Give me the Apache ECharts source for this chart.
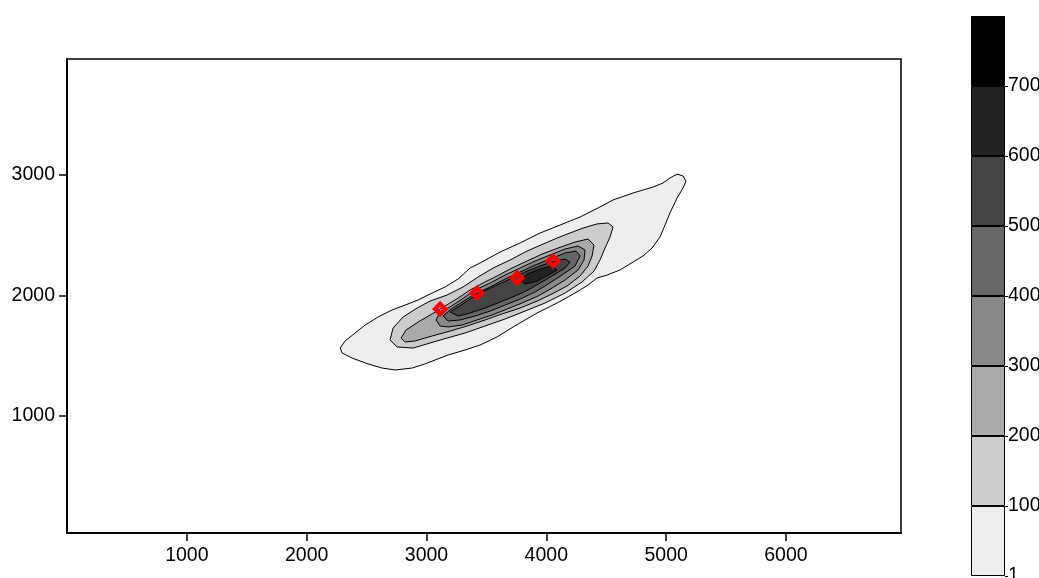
<!DOCTYPE html>
<html>
<head>
<meta charset="utf-8">
<script src="https://cdn.jsdelivr.net/npm/echarts@6/dist/echarts.min.js"></script>
<style>
  html, body { margin: 0; padding: 0; background: #fff; }
  #chart { width: 1039px; height: 578px; }
</style>
</head>
<body>
<div id="chart"></div>
<script>
// contour levels and their fill colours (light -> dark)
const levelLabels = ['1', '100', '200', '300', '400', '500', '600', '700'];
const levelColors = ['#eeeeee', '#cccccc', '#aaaaaa', '#888888', '#666666', '#444444', '#222222', '#000000'];

const xTicks = [1000, 2000, 3000, 4000, 5000, 6000];
const yTicks = [1000, 2000, 3000];

// contour outlines, data units [x, y]
const contour1 = [
  [2280,1564],[2321,1623],[2404,1689],[2488,1755],[2596,1822],[2713,1880],[2822,1921],[2930,1963],
  [3047,2021],[3155,2071],[3264,2137],[3364,2228],[3447,2270],[3614,2361],[3781,2436],[3948,2519],
  [4115,2585],[4282,2652],[4448,2735],[4557,2793],[4724,2851],[4891,2900],[4974,2934],[5032,2975],
  [5091,3008],[5141,2992],[5166,2950],[5141,2892],[5091,2809],[5032,2685],[4991,2585],[4949,2486],
  [4882,2394],[4807,2328],[4724,2278],[4615,2212],[4507,2170],[4423,2145],[4348,2087],[4282,2046],
  [4182,1988],[4090,1938],[4006,1896],[3923,1855],[3823,1797],[3723,1739],[3589,1656],[3447,1589],
  [3322,1548],[3180,1506],[3072,1465],[2988,1432],[2880,1398],[2738,1382],[2630,1398],[2513,1432],
  [2379,1481],[2296,1523]
];
const contour100 = [
  [2696,1631],[2721,1730],[2805,1822],[2922,1896],[3030,1954],[3172,2004],[3305,2071],[3431,2154],
  [3556,2228],[3698,2295],[3839,2369],[3973,2427],[4090,2477],[4198,2519],[4307,2560],[4423,2594],
  [4515,2602],[4557,2569],[4532,2486],[4490,2394],[4448,2295],[4398,2203],[4298,2112],[4157,2021],
  [3990,1938],[3823,1871],[3656,1805],[3489,1747],[3322,1689],[3172,1647],[3030,1606],[2888,1564],
  [2755,1573]
];
const contour200 = [
  [2788,1647],[2830,1714],[2930,1780],[3047,1847],[3155,1913],[3264,1979],[3364,2046],[3472,2104],
  [3589,2162],[3714,2228],[3839,2286],[3965,2344],[4098,2394],[4240,2444],[4348,2469],[4398,2419],
  [4382,2328],[4348,2245],[4282,2162],[4173,2079],[4048,2013],[3923,1954],[3781,1896],[3631,1847],
  [3489,1797],[3339,1747],[3197,1705],[3047,1664],[2905,1623],[2822,1614]
];
const contour300 = [
  [3080,1797],[3114,1863],[3197,1905],[3297,1971],[3406,2046],[3531,2104],[3656,2170],[3781,2228],
  [3906,2286],[4031,2336],[4157,2386],[4265,2411],[4323,2378],[4315,2295],[4265,2212],[4157,2129],
  [4048,2062],[3931,1996],[3798,1938],[3673,1888],[3547,1838],[3422,1797],[3297,1755],[3180,1739],
  [3114,1747]
];
const contour400 = [
  [3139,1830],[3197,1880],[3297,1946],[3406,2013],[3531,2071],[3656,2137],[3781,2195],[3906,2253],
  [4031,2303],[4157,2353],[4248,2369],[4282,2328],[4240,2245],[4131,2170],[4015,2095],[3906,2029],
  [3781,1971],[3656,1921],[3531,1871],[3406,1830],[3280,1797],[3180,1788]
];
const contour500 = [
  [3197,1863],[3264,1905],[3364,1971],[3464,2029],[3572,2079],[3698,2137],[3823,2195],[3948,2245],
  [4073,2286],[4157,2303],[4198,2278],[4157,2228],[4048,2162],[3948,2104],[3848,2046],[3739,1996],
  [3614,1946],[3489,1896],[3364,1855],[3264,1830]
];
const contour600 = [
  [3781,2129],[3839,2178],[3948,2220],[4048,2245],[4090,2212],[4031,2178],[3923,2120],[3823,2095]
];
const contours = [contour1, contour100, contour200, contour300, contour400, contour500, contour600];

// red diamond markers
const peaks = [[3114,1888],[3422,2021],[3756,2145],[4056,2286]];

const font = 'Liberation Sans, Arial, Helvetica, sans-serif';

const chart = echarts.init(document.getElementById('chart'));

const colorbarSeries = levelColors.map((c, i) => ({
  type: 'bar',
  xAxisIndex: 1,
  yAxisIndex: 1,
  stack: 'bar',
  barWidth: '100%',
  data: [1],
  itemStyle: { color: c, borderColor: '#000', borderWidth: 1 },
  silent: true
}));

chart.setOption({
  backgroundColor: '#fff',
  animation: false,
  grid: [
    { left: 67, top: 59, width: 834, height: 474, show: true, borderColor: '#000', borderWidth: 1.5,
      backgroundColor: '#fff', outerBoundsMode: 'none', containLabel: false },
    { left: 971, top: 16, width: 34, height: 560, outerBoundsMode: 'none', containLabel: false }
  ],
  xAxis: [
    {
      type: 'value', gridIndex: 0, min: 0, max: 6960,
      axisLine: { show: true, onZero: false, lineStyle: { color: '#000', width: 2 } },
      axisTick: { show: true, length: 8, customValues: xTicks, lineStyle: { color: '#000', width: 1.5 } },
      axisLabel: { customValues: xTicks, margin: 13, color: '#000', fontSize: 19.5, fontFamily: font,
        formatter: v => String(v) },
      splitLine: { show: false }
    },
    { type: 'category', gridIndex: 1, data: ['c'], show: false }
  ],
  yAxis: [
    {
      type: 'value', gridIndex: 0, min: 29, max: 3963,
      axisLine: { show: true, onZero: false, lineStyle: { color: '#000', width: 2 } },
      axisTick: { show: true, length: 8, customValues: yTicks, lineStyle: { color: '#000', width: 1.5 } },
      axisLabel: { customValues: yTicks, margin: 12, color: '#000', fontSize: 19.5, fontFamily: font,
        formatter: v => String(v) },
      splitLine: { show: false }
    },
    {
      type: 'value', gridIndex: 1, min: 0, max: levelColors.length, position: 'right',
      axisLine: { show: false },
      axisTick: { show: true, length: 3, customValues: [0, 1, 2, 3, 4, 5, 6, 7], lineStyle: { color: '#000' } },
      axisLabel: {
        customValues: [0, 1, 2, 3, 4, 5, 6, 7], margin: 3, color: '#000', fontSize: 19.5, fontFamily: font,
        formatter: v => levelLabels[v]
      },
      splitLine: { show: false }
    }
  ],
  series: [
    {
      type: 'custom',
      xAxisIndex: 0,
      yAxisIndex: 0,
      data: contours.map((c, i) => [i]),
      renderItem: (params, api) => {
        const i = params.dataIndex;
        const pts = contours[i].map(p => api.coord(p));
        return {
          type: 'polygon',
          shape: { points: pts },
          style: { fill: levelColors[i], stroke: '#000', lineWidth: 1 }
        };
      },
      silent: true
    },
    {
      type: 'scatter',
      xAxisIndex: 0,
      yAxisIndex: 0,
      data: peaks,
      symbol: 'diamond',
      symbolSize: 10,
      itemStyle: { color: 'transparent', borderColor: '#ff0000', borderWidth: 4.5, opacity: 1 },
      z: 5
    },
    ...colorbarSeries
  ]
});
</script>
</body>
</html>
